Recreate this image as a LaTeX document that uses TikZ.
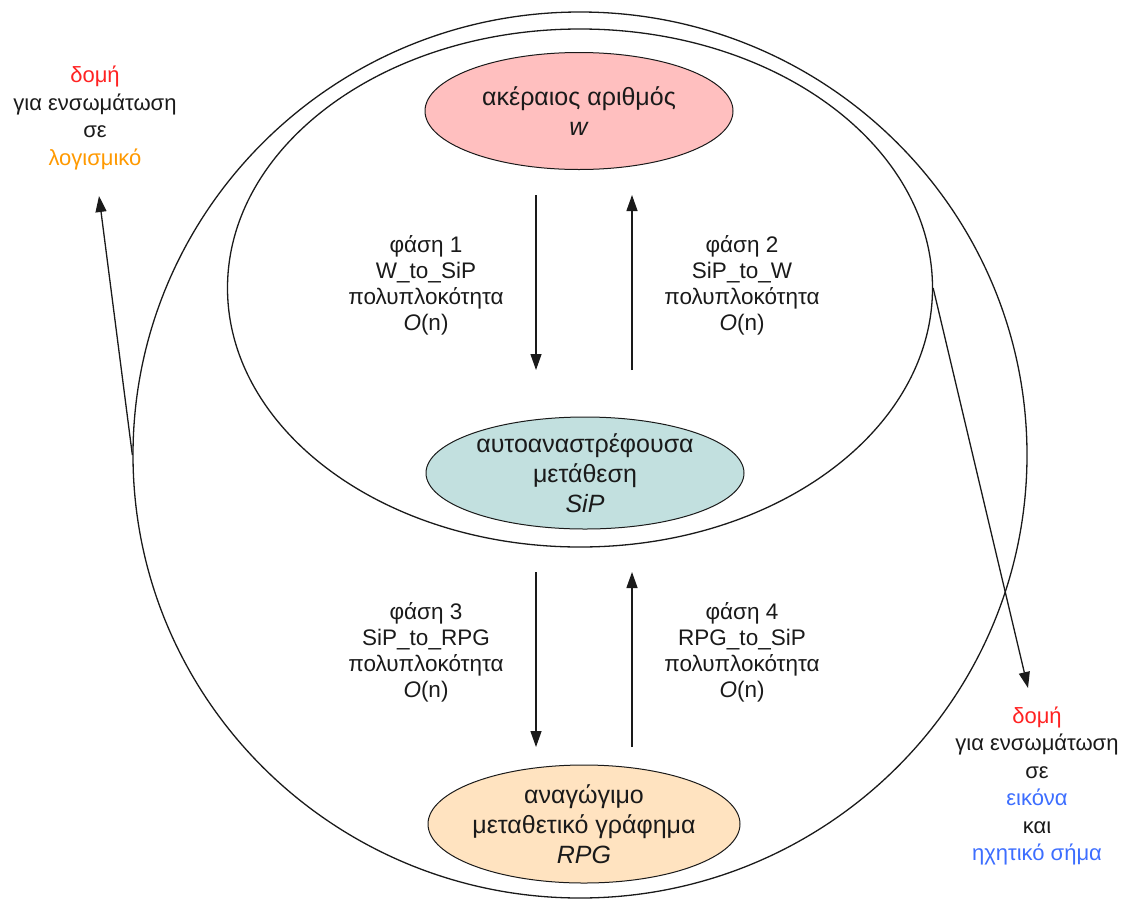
\documentclass[tikz,border=0pt]{standalone}
\usepackage{fontspec}
\setmainfont{Liberation Sans}
\usetikzlibrary{shapes.geometric,arrows.meta}
\definecolor{wfill}{HTML}{FFBFBF}
\definecolor{sipfill}{HTML}{C2E0DF}
\definecolor{rpgfill}{HTML}{FFE3C0}
\definecolor{kred}{HTML}{FF2222}
\definecolor{korange}{HTML}{FF9900}
\definecolor{kblue}{HTML}{3D6EFF}
\definecolor{ink}{HTML}{1A1A1A}

\begin{document}
\begin{tikzpicture}[x=1pt,y=-1pt,
  ring/.style={draw=ink, ellipse, line width=1.3pt, inner sep=0pt},
  state/.style={draw=ink, ellipse, line width=1pt, inner xsep=-50pt, inner ysep=-16pt,
    align=center, text=ink, font=\fontsize{25}{30}\selectfont},
  phase/.style={align=center, text=ink, font=\fontsize{22.5}{26}\selectfont},
  note/.style={align=center, text=ink, font=\fontsize{22}{27.5}\selectfont},
  flow/.style={draw=ink, line width=1.3pt, -{Triangle[length=16pt,width=11pt]}}]
\useasboundingbox (0,0) rectangle (1126,900);

% enclosing rings
\node[ring, minimum width=894pt, minimum height=886pt] (outer) at (580,455) {};
\node[ring, minimum width=705pt, minimum height=518pt] (inner) at (580,288) {};

% the three representations
\node[state, fill=wfill, minimum width=308pt, minimum height=117pt] (w) at (579,111)
  {ακέραιος αριθμός\\\textit{w}};
\node[state, fill=sipfill, minimum width=318pt, minimum height=112pt] (sip) at (585,473)
  {αυτοαναστρέφουσα\\μετάθεση\\\textit{SiP}};
\node[state, fill=rpgfill, minimum width=312pt, minimum height=118pt] (rpg) at (584,824)
  {αναγώγιμο\\μεταθετικό γράφημα\\\textit{RPG}};

% phase arrows
\coordinate (p1a) at (536,195); \coordinate (p1b) at (536,370);
\coordinate (p2a) at (632,370); \coordinate (p2b) at (632,195);
\coordinate (p3a) at (536,572); \coordinate (p3b) at (536,747);
\coordinate (p4a) at (632,747); \coordinate (p4b) at (632,572);
\draw[flow] (p1a) -- (p1b);
\draw[flow] (p2a) -- (p2b);
\draw[flow] (p3a) -- (p3b);
\draw[flow] (p4a) -- (p4b);

\node[phase] (ph1) at (426,285) {φάση 1\\W\_to\_SiP\\πολυπλοκότητα\\\textit{O}(n)};
\node[phase] (ph2) at (742,285) {φάση 2\\SiP\_to\_W\\πολυπλοκότητα\\\textit{O}(n)};
\node[phase] (ph3) at (426,652) {φάση 3\\SiP\_to\_RPG\\πολυπλοκότητα\\\textit{O}(n)};
\node[phase] (ph4) at (742,652) {φάση 4\\RPG\_to\_SiP\\πολυπλοκότητα\\\textit{O}(n)};

% applications
\node[note] (soft) at (95,118)
  {\textcolor{kred}{δομή}\\για ενσωμάτωση\\σε\\\textcolor{korange}{λογισμικό}};
\node[note] (media) at (1037,786)
  {\textcolor{kred}{δομή}\\για ενσωμάτωση\\σε\\\textcolor{kblue}{εικόνα}\\και\\\textcolor{kblue}{ηχητικό σήμα}};
\coordinate (softtip) at (99,196);
\coordinate (mediatip) at (1028,688);
\draw[flow] (outer.west) -- (softtip);
\draw[flow] (inner.east) -- (mediatip);
\end{tikzpicture}
\end{document}
